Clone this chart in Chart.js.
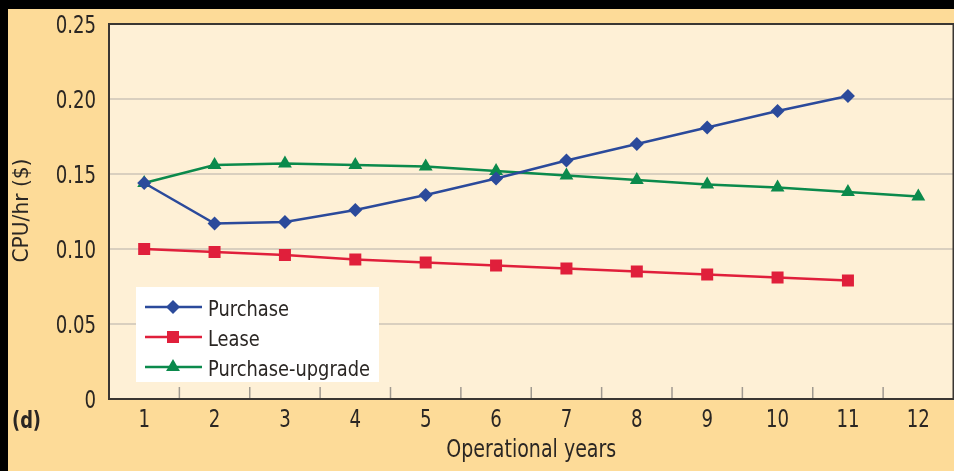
<!DOCTYPE html>
<html>
<head>
<meta charset="utf-8">
<script src="https://cdn.jsdelivr.net/npm/chart.js@4.4.1/dist/chart.umd.min.js"></script>
<style>
    html, body { margin: 0; padding: 0; background: #000; overflow: hidden; }
    .chart-wrap { position: absolute; left: 8px; top: 9px; width: 954px; height: 462px; }
</style>
</head>
<body>
<div class="chart-wrap"><canvas id="cpuChart"></canvas></div>
<script>
// chart data
const years = ['1', '2', '3', '4', '5', '6', '7', '8', '9', '10', '11', '12'];
const purchase = [0.144, 0.117, 0.118, 0.126, 0.136, 0.147, 0.159, 0.170, 0.181, 0.192, 0.202, null];
const lease = [0.100, 0.098, 0.096, 0.093, 0.091, 0.089, 0.087, 0.085, 0.083, 0.081, 0.079, null];
const purchaseUpgrade = [0.144, 0.156, 0.157, 0.156, 0.155, 0.152, 0.149, 0.146, 0.143, 0.141, 0.138, 0.135];
const yTicks = [0, 0.05, 0.10, 0.15, 0.20, 0.25];

const FONT = '"DejaVu Sans Condensed", "DejaVu Sans", sans-serif';
const TEXT = '#2a2623';

// condensed text: squeeze horizontally so it looks like the narrow print face
function drawText(ctx, text, x, y, font, align, sx) {
    ctx.save();
    ctx.font = font;
    ctx.fillStyle = TEXT;
    ctx.textBaseline = 'alphabetic';
    const w = ctx.measureText(text).width * sx;
    let left = x;
    if (align === 'center') left = x - w / 2;
    else if (align === 'right') left = x - w;
    ctx.translate(left, y);
    ctx.scale(sx, 1);
    ctx.textAlign = 'left';
    ctx.fillText(text, 0, 0);
    ctx.restore();
}

function fitScale(ctx, text, font, width) {
    ctx.save();
    ctx.font = font;
    const s = width / ctx.measureText(text).width;
    ctx.restore();
    return s;
}

function drawMarker(ctx, style, x, y, r, color) {
    ctx.save();
    ctx.fillStyle = color;
    ctx.beginPath();
    if (style === 'rectRot') {
        ctx.moveTo(x, y - r); ctx.lineTo(x + r, y); ctx.lineTo(x, y + r); ctx.lineTo(x - r, y);
    } else if (style === 'rect') {
        const s = r * Math.SQRT1_2;
        ctx.rect(x - s, y - s, 2 * s, 2 * s);
    } else {
        const h = r * 0.5, w = r * Math.sqrt(3) / 2;
        ctx.moveTo(x, y - r); ctx.lineTo(x + w, y + h); ctx.lineTo(x - w, y + h);
    }
    ctx.closePath();
    ctx.fill();
    ctx.restore();
}

const decorPlugin = {
    id: 'decor',
    beforeDraw(chart) {
        const { ctx, chartArea: ca } = chart;
        ctx.save();
        ctx.fillStyle = '#fddb98';
        ctx.fillRect(0, 0, chart.width, chart.height);
        ctx.fillStyle = '#fef0d6';
        ctx.fillRect(ca.left, ca.top, ca.right - ca.left, ca.bottom - ca.top);
        ctx.restore();
    },
    beforeDatasetsDraw(chart) {
        const { ctx, chartArea: ca } = chart;
        const xs = chart.scales.x;
        ctx.save();
        // small inward tick marks between categories
        ctx.strokeStyle = '#a09a90';
        ctx.lineWidth = 1.5;
        for (let i = 0; i < years.length - 1; i++) {
            const px = (xs.getPixelForValue(i) + xs.getPixelForValue(i + 1)) / 2;
            ctx.beginPath();
            ctx.moveTo(px, ca.bottom);
            ctx.lineTo(px, ca.bottom - 12);
            ctx.stroke();
        }
        // plot frame
        ctx.strokeStyle = '#3a3632';
        ctx.lineWidth = 2;
        ctx.strokeRect(ca.left, ca.top, ca.right - ca.left, ca.bottom - ca.top);
        ctx.restore();
    },
    afterDraw(chart) {
        const { ctx, chartArea: ca } = chart;
        const xs = chart.scales.x, ys = chart.scales.y;
        const tickFont = '24px ' + FONT;

        // tick labels
        yTicks.forEach(v => {
            drawText(ctx, v === 0 ? '0' : v.toFixed(2), ca.left - 13, ys.getPixelForValue(v) + 9, tickFont, 'right', 0.84);
        });
        years.forEach((lab, i) => {
            drawText(ctx, lab, xs.getPixelForValue(i), ca.bottom + 28, tickFont, 'center', 0.84);
        });

        // axis titles and panel letter
        const titleFont = '24px ' + FONT;
        drawText(ctx, 'Operational years', (ca.left + ca.right) / 2, ca.bottom + 58, titleFont, 'center',
            fitScale(ctx, 'Operational years', titleFont, 170));

        const yFont = '22px ' + FONT;
        ctx.save();
        ctx.translate(20, (ca.top + ca.bottom) / 2 - 1);
        ctx.rotate(-Math.PI / 2);
        drawText(ctx, 'CPU/hr ($)', 0, 0, yFont, 'center', fitScale(ctx, 'CPU/hr ($)', yFont, 104));
        ctx.restore();

        const dFont = 'bold 23px ' + FONT;
        drawText(ctx, '(d)', 4, ca.bottom + 29, dFont, 'left', fitScale(ctx, '(d)', dFont, 29));

        // legend box
        ctx.save();
        ctx.fillStyle = '#ffffff';
        ctx.fillRect(ca.left + 27, ca.bottom - 112, 243, 95);
        ctx.restore();
        const legFont = '22px ' + FONT;
        const legScale = fitScale(ctx, 'Purchase-upgrade', legFont, 162);
        const rows = [-92, -62, -32];
        chart.data.datasets.forEach((ds, i) => {
            const y = ca.bottom + rows[i];
            ctx.save();
            ctx.strokeStyle = ds.borderColor;
            ctx.lineWidth = 2.5;
            ctx.beginPath();
            ctx.moveTo(ca.left + 36, y);
            ctx.lineTo(ca.left + 93, y);
            ctx.stroke();
            ctx.restore();
            drawMarker(ctx, ds.pointStyle, ca.left + 64, y, ds.pointRadius, ds.borderColor);
            drawText(ctx, ds.label, ca.left + 99, y + 9, legFont, 'left', legScale);
        });
    }
};

const ctx = document.getElementById('cpuChart').getContext('2d');
new Chart(ctx, {
    type: 'line',
    data: {
        labels: years,
        datasets: [
            {
                label: 'Purchase',
                data: purchase,
                borderColor: '#2b4a9b',
                backgroundColor: '#2b4a9b',
                borderWidth: 2.5,
                pointStyle: 'rectRot',
                pointRadius: 7,
                pointBorderWidth: 0
            },
            {
                label: 'Lease',
                data: lease,
                borderColor: '#e01f3b',
                backgroundColor: '#e01f3b',
                borderWidth: 2.5,
                pointStyle: 'rect',
                pointRadius: 8.5,
                pointBorderWidth: 0
            },
            {
                label: 'Purchase-upgrade',
                data: purchaseUpgrade,
                borderColor: '#0b8a4c',
                backgroundColor: '#0b8a4c',
                borderWidth: 2.5,
                pointStyle: 'triangle',
                pointRadius: 8,
                pointBorderWidth: 0
            }
        ]
    },
    options: {
        responsive: true,
        maintainAspectRatio: false,
        animation: false,
        layout: { padding: { top: 15, right: 1, left: 0, bottom: 0 } },
        plugins: {
            legend: { display: false },
            tooltip: { enabled: false }
        },
        scales: {
            x: {
                offset: true,
                grid: { display: false, drawTicks: false },
                border: { display: false },
                ticks: { display: false },
                afterFit: s => { s.height = 72; }
            },
            y: {
                min: 0,
                max: 0.25,
                afterBuildTicks: s => { s.ticks = yTicks.map(v => ({ value: v })); },
                grid: { color: '#d9cfbf', lineWidth: 2, drawTicks: false },
                border: { display: false },
                ticks: { display: false },
                afterFit: s => { s.width = 101; }
            }
        }
    },
    plugins: [decorPlugin]
});
</script>
</body>
</html>
